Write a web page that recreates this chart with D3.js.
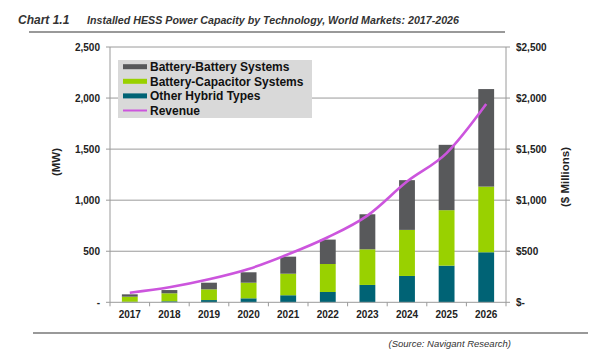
<!DOCTYPE html>
<html><head><meta charset="utf-8">
<script src="https://cdn.jsdelivr.net/npm/d3@7"></script>
<style>body{margin:0;background:#fff}svg{display:block;font-family:Arial,"Liberation Sans",sans-serif}</style>
</head><body><svg id="c" width="608" height="355"></svg>
<script>
const years = ["2017","2018","2019","2020","2021","2022","2023","2024","2025","2026"];
const otherHybrid = [5, 10, 22, 39, 69, 101, 170, 258, 359, 490];
const batteryCapacitor = [50, 78, 105, 153, 211, 274, 349, 451, 543, 643];
const batteryBattery = [23, 32, 65, 102, 167, 239, 343, 487, 640, 955];
const revenue = [94, 147, 225, 326, 470, 637, 849, 1182, 1461, 1941];
const leftTicks = [0, 500, 1000, 1500, 2000, 2500];
const seriesNames = ["Battery-Battery Systems", "Battery-Capacitor Systems", "Other Hybrid Types", "Revenue"];

const colors = {bb:"#58595b", bc:"#99d100", oh:"#006375", rev:"#cc55dd"};
const svg = d3.select("#c");
const L=110, R=506, T=47, B=302.3;
const x = d3.scaleBand().domain(years).range([L,R]).paddingInner(0.6).paddingOuter(0.3);
const xc = d3.scaleBand().domain(years).range([L,R]);
const y = d3.scaleLinear().domain([0,2500]).range([B,T]);
const yR = d3.scaleLinear().domain([0,2500]).range([B,T]);

// title
svg.append("text").attr("x",18).attr("y",24).attr("font-size",12).attr("font-weight","bold").attr("font-style","italic").attr("fill","#333").text("Chart 1.1");
svg.append("text").attr("x",87).attr("y",24).attr("font-size",11.3).attr("font-weight","bold").attr("font-style","italic").attr("fill","#333")
  .attr("textLength",372).attr("lengthAdjust","spacingAndGlyphs").text("Installed HESS Power Capacity by Technology, World Markets: 2017-2026");
svg.append("line").attr("x1",29).attr("x2",505).attr("y1",32).attr("y2",32).attr("stroke","#777").attr("stroke-width",1.5);

// gridlines
svg.append("g").selectAll("line").data(leftTicks.filter(d=>d>0)).join("line")
  .attr("x1",L).attr("x2",R).attr("y1",d=>y(d)).attr("y2",d=>y(d)).attr("stroke","#9a9a9a").attr("stroke-width",1);

// stacked bars
const rows = years.map((yr,i)=>({year:yr, oh:otherHybrid[i], bc:batteryCapacitor[i], bb:batteryBattery[i]}));
const stack = d3.stack().keys(["oh","bc","bb"])(rows);
svg.append("g").selectAll("g").data(stack).join("g").attr("fill",d=>colors[d.key])
  .selectAll("rect").data(d=>d).join("rect")
  .attr("x",d=>x(d.data.year)).attr("width",x.bandwidth())
  .attr("y",d=>y(d[1])).attr("height",d=>y(d[0])-y(d[1]));

// axes
const ax = svg.append("g").attr("stroke","#9a9a9a").attr("stroke-width",1);
ax.append("line").attr("x1",L).attr("x2",L).attr("y1",T).attr("y2",B);
ax.append("line").attr("x1",R).attr("x2",R).attr("y1",T).attr("y2",B);
ax.append("line").attr("x1",L).attr("x2",R).attr("y1",B).attr("y2",B);
ax.selectAll(".tl").data(leftTicks).join("line").attr("x1",L-4).attr("x2",L).attr("y1",d=>y(d)).attr("y2",d=>y(d));
ax.selectAll(".tr").data(leftTicks).join("line").attr("x1",R).attr("x2",R+4).attr("y1",d=>yR(d)).attr("y2",d=>yR(d));
const xt = years.map(d=>xc(d)).concat([R]);
ax.selectAll(".tb").data(xt).join("line").attr("x1",d=>d).attr("x2",d=>d).attr("y1",B).attr("y2",B+4);

// tick labels
const fmtL = d => d===0 ? "-" : d3.format(",")(d);
const fmtR = d => d===0 ? "$-" : "$"+d3.format(",")(d);
svg.append("g").selectAll("text").data(leftTicks).join("text")
  .attr("x",L-10).attr("y",d=>y(d)+4).attr("text-anchor","end").attr("font-size",10).attr("font-weight","bold").attr("fill","#222").text(fmtL);
svg.append("g").selectAll("text").data(leftTicks).join("text")
  .attr("x",R+10).attr("y",d=>yR(d)+4).attr("text-anchor","start").attr("font-size",10).attr("font-weight","bold").attr("fill","#222").text(fmtR);
svg.append("g").selectAll("text").data(years).join("text")
  .attr("x",d=>xc(d)+xc.bandwidth()/2).attr("y",318).attr("text-anchor","middle").attr("font-size",10).attr("font-weight","bold").attr("fill","#222").text(d=>d);

// axis titles
svg.append("text").attr("transform","translate(60,162) rotate(-90)").attr("text-anchor","middle").attr("font-size",11.5).attr("font-weight","bold").attr("fill","#222").text("(MW)");
svg.append("text").attr("transform","translate(569,177) rotate(-90)").attr("text-anchor","middle").attr("font-size",11.5).attr("font-weight","bold").attr("fill","#222").text("($ Millions)");

// revenue line
const line = d3.line().x((d,i)=>xc(years[i])+xc.bandwidth()/2).y(d=>yR(d)).curve(d3.curveMonotoneX);
svg.append("path").datum(revenue).attr("d",line).attr("fill","none").attr("stroke",colors.rev).attr("stroke-width",2.6);

// legend
const lg = svg.append("g");
lg.append("rect").attr("x",118).attr("y",60).attr("width",194).attr("height",58).attr("fill","#d9d9d9");
const lc = [colors.bb, colors.bc, colors.oh, colors.rev];
seriesNames.forEach((n,i)=>{
  const cy = 66.7 + i*14.6;
  if (i<3) lg.append("rect").attr("x",123).attr("y",cy-2.5).attr("width",24).attr("height",5).attr("fill",lc[i]);
  else lg.append("line").attr("x1",123).attr("x2",147).attr("y1",cy).attr("y2",cy).attr("stroke",lc[i]).attr("stroke-width",2);
  lg.append("text").attr("x",150).attr("y",cy+4.5).attr("font-size",12).attr("font-weight","bold").attr("fill","#111").text(n);
});

// source
svg.append("line").attr("x1",33).attr("x2",588).attr("y1",333).attr("y2",333).attr("stroke","#777").attr("stroke-width",1.5);
svg.append("text").attr("x",511).attr("y",347).attr("text-anchor","end").attr("font-size",9.5).attr("font-style","italic").attr("fill","#333").text("(Source: Navigant Research)");
</script></body></html>
